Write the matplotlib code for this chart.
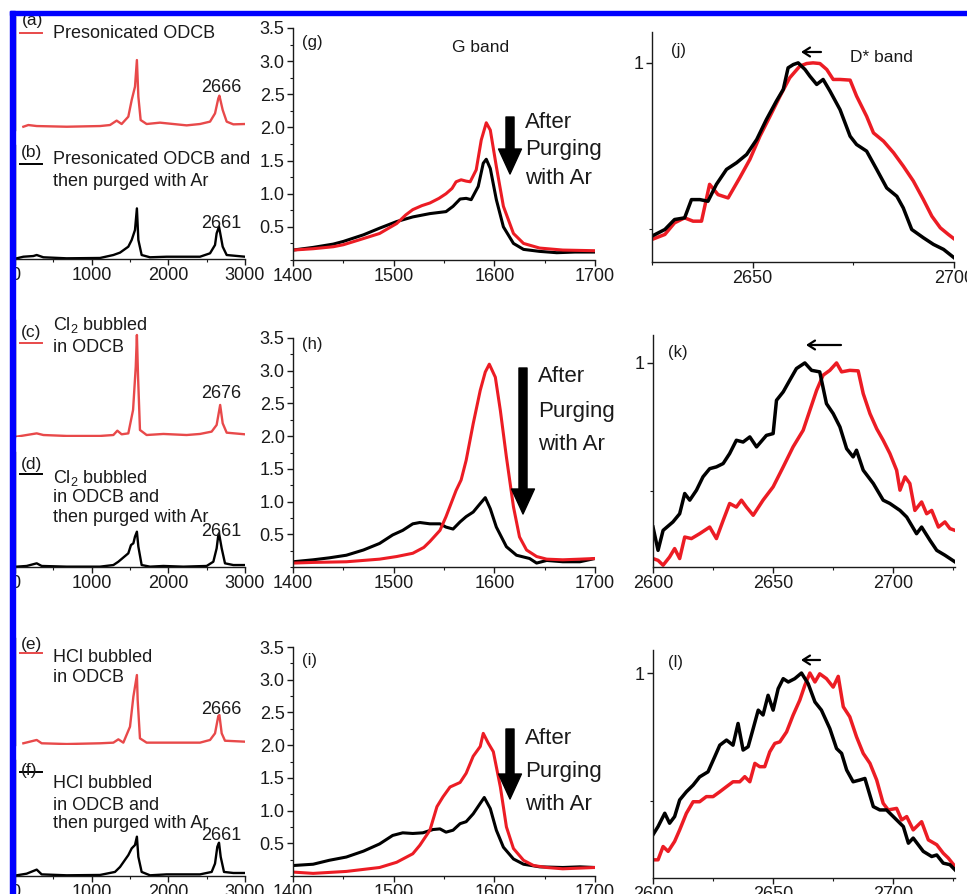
import matplotlib.pyplot as plt
from matplotlib.lines import Line2D
from matplotlib.patches import FancyArrowPatch, Rectangle
from matplotlib.ticker import FixedLocator, MultipleLocator

plt.rcParams['font.family'] = ['Liberation Sans', 'DejaVu Sans']
plt.rcParams['mathtext.fontset'] = 'custom'
plt.rcParams['mathtext.rm'] = 'Liberation Sans'
plt.rcParams['mathtext.it'] = 'Liberation Sans:italic'

W, H = 967, 894
RED = '#ec1c24'
RED_LIGHT = '#e8494a'
INK = '#1a1a1a'

# ---- survey spectra (left column), intensity in arbitrary units ----
a_x = [109, 174, 283, 674, 1109, 1239, 1326, 1391, 1478, 1522, 1565, 1590, 1609, 1639,
       1717, 1891, 1978, 2239, 2413, 2544, 2609, 2652, 2666, 2709, 2761, 2848, 3000]
a_y = [0.029, 0.044, 0.035, 0.029, 0.035, 0.044, 0.083, 0.053, 0.118, 0.265, 0.383, 0.619, 0.295, 0.088,
       0.053, 0.065, 0.059, 0.041, 0.053, 0.074, 0.147, 0.280, 0.304, 0.177, 0.074, 0.050, 0.053]
b_x = [22, 109, 239, 283, 370, 674, 1109, 1283, 1370, 1478, 1522, 1565, 1590, 1609, 1652,
       1761, 1978, 2413, 2544, 2609, 2630, 2661, 2709, 2761, 3000]
b_y = [0.006, 0.020, 0.026, 0.035, 0.015, 0.006, 0.009, 0.035, 0.056, 0.108, 0.167, 0.254, 0.444, 0.167, 0.035,
       0.015, 0.020, 0.020, 0.050, 0.123, 0.225, 0.284, 0.108, 0.035, 0.020]
c_x = [22, 152, 283, 370, 674, 1109, 1283, 1335, 1391, 1478, 1540, 1575, 1590, 1605, 1630,
       1717, 1935, 2239, 2413, 2565, 2630, 2676, 2709, 2761, 3000]
c_y = [0.003, 0.017, 0.031, 0.017, 0.009, 0.009, 0.017, 0.054, 0.023, 0.031, 0.231, 0.601, 0.872, 0.516, 0.060,
       0.017, 0.026, 0.017, 0.026, 0.046, 0.103, 0.274, 0.117, 0.037, 0.023]
d_x = [22, 152, 283, 348, 674, 1109, 1283, 1348, 1478, 1513, 1544, 1565, 1590, 1609, 1652,
       1761, 1935, 2196, 2500, 2587, 2630, 2652, 2661, 2696, 2739, 2848, 3000]
d_y = [0.003, 0.009, 0.032, 0.009, 0.003, 0.003, 0.017, 0.046, 0.119, 0.191, 0.206, 0.264, 0.307, 0.177, 0.017,
       0.003, 0.009, 0.003, 0.009, 0.046, 0.162, 0.278, 0.293, 0.162, 0.032, 0.017, 0.017]
e_x = [109, 283, 348, 674, 1109, 1283, 1348, 1413, 1500, 1544, 1590, 1600, 1630, 1717,
       1978, 2413, 2544, 2609, 2652, 2666, 2696, 2739, 3000]
e_y = [0.016, 0.047, 0.016, 0.009, 0.016, 0.022, 0.053, 0.022, 0.171, 0.452, 0.654, 0.421, 0.062, 0.022,
       0.022, 0.022, 0.047, 0.109, 0.271, 0.280, 0.109, 0.040, 0.031]
f_x = [22, 152, 283, 348, 674, 1109, 1304, 1370, 1478, 1522, 1565, 1590, 1609, 1652, 1761,
       1978, 2413, 2565, 2609, 2639, 2661, 2683, 2726, 2848, 3000]
f_y = [0.006, 0.020, 0.055, 0.014, 0.006, 0.009, 0.035, 0.078, 0.180, 0.238, 0.267, 0.339, 0.165, 0.035, 0.006,
       0.014, 0.014, 0.035, 0.107, 0.252, 0.287, 0.165, 0.035, 0.026, 0.026]

# ---- G band (middle column) ----
g_red_x = [1400, 1420, 1440, 1450, 1465, 1486, 1495, 1503, 1512, 1519, 1528, 1536, 1545, 1552, 1558,
           1562, 1567, 1572, 1576, 1582, 1587, 1592, 1596, 1602, 1609, 1619, 1629, 1645, 1668, 1700]
g_red_y = [0.15, 0.17, 0.20, 0.23, 0.30, 0.40, 0.48, 0.55, 0.68, 0.76, 0.82, 0.86, 0.93, 1.00, 1.08,
           1.18, 1.21, 1.19, 1.18, 1.36, 1.81, 2.07, 1.96, 1.41, 0.81, 0.40, 0.25, 0.18, 0.15, 0.14]
g_blk_x = [1400, 1420, 1440, 1450, 1470, 1486, 1503, 1519, 1536, 1552, 1559, 1566, 1572,
           1577, 1584, 1589, 1592, 1596, 1602, 1609, 1619, 1629, 1645, 1662, 1680, 1700]
g_blk_y = [0.15, 0.19, 0.24, 0.28, 0.38, 0.48, 0.58, 0.65, 0.70, 0.73, 0.81, 0.92, 0.93,
           0.91, 1.11, 1.46, 1.52, 1.38, 0.91, 0.50, 0.25, 0.16, 0.13, 0.11, 0.12, 0.12]
h_red_x = [1400, 1420, 1453, 1486, 1503, 1519, 1530, 1536, 1546, 1552, 1562, 1567, 1572, 1579,
           1586, 1591, 1595, 1601, 1606, 1612, 1619, 1625, 1632, 1642, 1652, 1668, 1685, 1700]
h_red_y = [0.06, 0.07, 0.08, 0.12, 0.16, 0.21, 0.30, 0.39, 0.56, 0.77, 1.17, 1.33, 1.63, 2.19,
           2.70, 2.98, 3.10, 2.90, 2.39, 1.68, 0.92, 0.46, 0.26, 0.16, 0.12, 0.11, 0.12, 0.13]
h_blk_x = [1400, 1420, 1436, 1453, 1470, 1486, 1499, 1509, 1519, 1526, 1536, 1546, 1552, 1559, 1566,
           1572, 1579, 1586, 1591, 1596, 1602, 1612, 1622, 1635, 1642, 1652, 1668, 1685, 1700]
h_blk_y = [0.08, 0.11, 0.14, 0.18, 0.26, 0.36, 0.49, 0.56, 0.66, 0.68, 0.66, 0.66, 0.61, 0.58, 0.69,
           0.77, 0.84, 0.97, 1.06, 0.89, 0.61, 0.31, 0.18, 0.13, 0.06, 0.10, 0.08, 0.08, 0.13]
i_red_x = [1400, 1420, 1453, 1486, 1503, 1519, 1526, 1536, 1543, 1549, 1556, 1566, 1572,
           1579, 1586, 1589, 1594, 1599, 1606, 1612, 1619, 1629, 1639, 1652, 1668, 1700]
i_red_y = [0.06, 0.04, 0.07, 0.13, 0.21, 0.34, 0.47, 0.70, 1.06, 1.21, 1.36, 1.43, 1.57,
           1.83, 1.98, 2.18, 2.03, 1.90, 1.36, 0.75, 0.42, 0.24, 0.16, 0.13, 0.11, 0.13]
i_blk_x = [1400, 1420, 1436, 1453, 1470, 1486, 1499, 1509, 1519, 1529, 1539, 1546, 1552, 1559,
           1566, 1572, 1579, 1586, 1590, 1596, 1602, 1609, 1619, 1629, 1645, 1668, 1685, 1700]
i_blk_y = [0.16, 0.18, 0.24, 0.29, 0.38, 0.49, 0.62, 0.66, 0.65, 0.66, 0.71, 0.72, 0.67, 0.70,
           0.80, 0.83, 0.95, 1.11, 1.20, 1.03, 0.70, 0.44, 0.26, 0.18, 0.14, 0.13, 0.14, 0.13]

# ---- D* band (right column), normalised ----
j_blk_x = [2625.0, 2628.2, 2630.6, 2633.1, 2634.8, 2636.9, 2638.9, 2641.0, 2643.5, 2646.0,
           2648.5, 2651.0, 2653.4, 2655.9, 2657.6, 2658.8, 2660.1, 2661.3, 2663.0, 2664.2,
           2665.9, 2667.5, 2669.2, 2671.7, 2674.2, 2675.8, 2678.3, 2680.8, 2683.3, 2685.8,
           2687.4, 2689.5, 2692.4, 2694.9, 2697.4, 2700.0]
j_blk_y = [0.478, 0.498, 0.528, 0.533, 0.588, 0.588, 0.583, 0.634, 0.679, 0.699,
           0.724, 0.769, 0.829, 0.885, 0.920, 0.985, 0.995, 1.0, 0.98, 0.96,
           0.935, 0.95, 0.915, 0.859, 0.779, 0.754, 0.734, 0.679, 0.623, 0.598,
           0.563, 0.498, 0.473, 0.453, 0.438, 0.413]
j_red_x = [2625.0, 2628.2, 2630.6, 2633.1, 2635.2, 2637.3, 2639.3, 2641.4, 2643.9, 2646.8,
           2649.3, 2651.8, 2654.3, 2656.8, 2659.2, 2661.7, 2663.4, 2665.0, 2666.7, 2668.4,
           2670.0, 2671.7, 2674.2, 2675.8, 2678.3, 2680.0, 2682.5, 2685.0, 2687.4, 2689.9,
           2692.4, 2694.5, 2696.6, 2698.6, 2700.0]
j_red_y = [0.468, 0.483, 0.518, 0.533, 0.523, 0.523, 0.634, 0.603, 0.593, 0.654,
           0.709, 0.779, 0.839, 0.900, 0.955, 0.990, 0.998, 1.0, 0.998, 0.980,
           0.950, 0.950, 0.948, 0.900, 0.839, 0.789, 0.764, 0.729, 0.689, 0.644,
           0.588, 0.538, 0.503, 0.483, 0.470]
k_blk_x = [2600, 2602.1, 2604.2, 2608.3, 2611.1, 2613.2, 2615.3, 2618.1, 2620.8, 2623.6,
           2626.4, 2629.2, 2631.9, 2634.7, 2637.5, 2640.3, 2643.1, 2647.2, 2650, 2651.4,
           2654.2, 2656.9, 2659.7, 2663.2, 2666.0, 2669.4, 2672.2, 2675.0, 2677.8, 2680.6,
           2683.3, 2684.7, 2687.5, 2691.7, 2695.8, 2698.6, 2702.8, 2705.6, 2709.7, 2711.8,
           2715.3, 2718.1, 2721.5, 2725.7]
k_blk_y = [0.359, 0.268, 0.346, 0.379, 0.411, 0.490, 0.464, 0.503, 0.555, 0.587,
           0.594, 0.607, 0.646, 0.698, 0.691, 0.711, 0.672, 0.717, 0.724, 0.854,
           0.887, 0.932, 0.978, 1.0, 0.971, 0.965, 0.841, 0.802, 0.750, 0.665,
           0.633, 0.659, 0.581, 0.529, 0.464, 0.451, 0.424, 0.398, 0.333, 0.359,
           0.307, 0.268, 0.249, 0.223]
k_red_x = [2600, 2602.1, 2604.2, 2606.9, 2609.0, 2611.1, 2613.2, 2616.0, 2619.4, 2623.6,
           2626.4, 2629.2, 2631.9, 2634.7, 2636.8, 2638.9, 2641.7, 2645.8, 2650.0, 2654.2,
           2658.3, 2662.5, 2665.3, 2668.1, 2670.8, 2673.6, 2676.4, 2678.5, 2681.9, 2685.4,
           2687.5, 2690.3, 2693.1, 2695.8, 2698.6, 2701.4, 2702.8, 2704.9, 2706.9, 2709.0,
           2711.8, 2713.9, 2716.0, 2718.8, 2721.5, 2723.6, 2725.7]
k_red_y = [0.236, 0.229, 0.210, 0.242, 0.275, 0.236, 0.320, 0.314, 0.333, 0.359,
           0.314, 0.385, 0.451, 0.437, 0.464, 0.437, 0.405, 0.464, 0.516, 0.594,
           0.672, 0.737, 0.815, 0.893, 0.952, 0.971, 1.0, 0.965, 0.971, 0.969,
           0.880, 0.802, 0.743, 0.698, 0.646, 0.581, 0.503, 0.555, 0.529, 0.424,
           0.457, 0.411, 0.424, 0.359, 0.379, 0.353, 0.346]
l_blk_x = [2600, 2602.1, 2604.9, 2606.9, 2609.0, 2611.1, 2613.9, 2616.7, 2619.4, 2622.9,
           2625.7, 2627.8, 2630.6, 2633.3, 2635.4, 2637.5, 2639.6, 2641.7, 2643.8, 2645.8,
           2647.9, 2650.0, 2652.1, 2654.2, 2656.3, 2659.0, 2661.8, 2664.6, 2667.4, 2670.1,
           2673.6, 2676.4, 2678.5, 2680.6, 2683.3, 2686.1, 2688.2, 2691.7, 2694.4, 2697.2,
           2701.4, 2704.2, 2706.3, 2708.3, 2712.5, 2716.0, 2718.1, 2720.8, 2723.6, 2725.7]
l_blk_y = [0.368, 0.400, 0.452, 0.413, 0.439, 0.504, 0.536, 0.562, 0.594, 0.614,
           0.673, 0.718, 0.738, 0.718, 0.803, 0.699, 0.712, 0.783, 0.855, 0.836,
           0.913, 0.855, 0.939, 0.978, 0.965, 0.978, 1.0, 0.958, 0.887, 0.855,
           0.783, 0.705, 0.686, 0.621, 0.575, 0.582, 0.588, 0.478, 0.465, 0.465,
           0.426, 0.400, 0.335, 0.355, 0.303, 0.283, 0.289, 0.257, 0.251, 0.231]
l_red_x = [2600, 2602.1, 2604.2, 2606.3, 2609.0, 2611.1, 2613.9, 2616.7, 2619.4, 2622.2,
           2625.0, 2627.8, 2630.6, 2633.3, 2636.1, 2638.2, 2640.3, 2642.4, 2644.4, 2646.5,
           2648.6, 2650.7, 2652.8, 2655.6, 2658.3, 2661.1, 2663.2, 2665.3, 2667.4, 2669.4,
           2672.2, 2675.0, 2677.1, 2679.2, 2681.9, 2684.7, 2687.5, 2690.3, 2693.1, 2695.8,
           2697.9, 2701.4, 2703.5, 2705.6, 2708.3, 2711.8, 2714.6, 2718.1, 2720.8, 2722.9,
           2725.7]
l_red_y = [0.270, 0.270, 0.322, 0.303, 0.342, 0.387, 0.452, 0.497, 0.497, 0.517,
           0.517, 0.536, 0.556, 0.575, 0.575, 0.595, 0.575, 0.647, 0.634, 0.634,
           0.692, 0.725, 0.731, 0.770, 0.835, 0.894, 0.952, 1.0, 0.965, 0.997,
           0.978, 0.945, 0.987, 0.868, 0.829, 0.751, 0.686, 0.647, 0.582, 0.491,
           0.465, 0.471, 0.426, 0.439, 0.387, 0.419, 0.348, 0.329, 0.296, 0.277,
           0.244]

fig = plt.figure(figsize=(W / 100, H / 100), dpi=100)


def fx(x):
    return x / W


def fy(y):
    return 1 - y / H


def px_axes(x0, y0, x1, y1):
    ax = fig.add_axes([fx(x0), fy(y1), (x1 - x0) / W, (y1 - y0) / H])
    ax.patch.set_alpha(0)
    ax.spines['top'].set_visible(False)
    ax.spines['right'].set_visible(False)
    for s in ('left', 'bottom'):
        ax.spines[s].set_linewidth(1.0)
        ax.spines[s].set_color(INK)
    ax.tick_params(which='major', direction='out', length=4, width=1, labelsize=13,
                   colors=INK, pad=2)
    ax.tick_params(which='minor', direction='out', length=2.5, width=0.8, colors=INK)
    return ax


def ftext(x, y, s, size=13, ha='left'):
    fig.text(fx(x), fy(y), s, fontsize=size, ha=ha, va='center', color=INK)


def tag_line(x0, x1, y, color):
    fig.add_artist(Line2D([fx(x0), fx(x1)], [fy(y), fy(y)], color=color, lw=1.4))


def big_arrow(x, y0, y1):
    fig.add_artist(FancyArrowPatch((fx(x), fy(y0)), (fx(x), fy(y1)), transform=fig.transFigure,
                                   arrowstyle='simple,head_width=16.5,head_length=18,tail_width=5.8',
                                   mutation_scale=1, color='black', shrinkA=0, shrinkB=0))


def small_arrow(x0, x1, y):
    fig.add_artist(FancyArrowPatch((fx(x0), fy(y)), (fx(x1), fy(y)), transform=fig.transFigure,
                                   arrowstyle='->,head_length=5,head_width=3.2', mutation_scale=1,
                                   color='black', lw=1.6, shrinkA=0, shrinkB=0))


# left column: survey spectra, two stacked strips per row
def survey(top_box, bot_box, tx, ty, bx, by):
    ax_t = px_axes(*top_box)
    ax_t.plot(tx, ty, color=RED_LIGHT, lw=1.7)
    ax_b = px_axes(*bot_box)
    ax_b.plot(bx, by, color='black', lw=1.7)
    for ax in (ax_t, ax_b):
        ax.set_xlim(0, 3000)
        ax.set_ylim(0, 1)
        ax.set_yticks([])
    ax_t.spines['bottom'].set_visible(False)
    ax_t.set_xticks([])
    ax_b.set_xticks([0, 1000, 2000, 3000])
    ax_b.xaxis.set_minor_locator(MultipleLocator(500))


survey((15, 17, 245, 130), (15, 145, 245, 259), a_x, a_y, b_x, b_y)
survey((15, 320, 245, 437), (15, 452, 245, 567), c_x, c_y, d_x, d_y)
survey((15, 638, 245, 745), (15, 760, 245, 876), e_x, e_y, f_x, f_y)


# middle column: G band
def gband(box, rx, ry, bx, by):
    ax = px_axes(*box)
    ax.plot(bx, by, color='black', lw=2.2)
    ax.plot(rx, ry, color=RED, lw=2.2)
    ax.set_xlim(1400, 1700)
    ax.set_ylim(0, 3.5)
    ax.set_xticks([1400, 1500, 1600, 1700])
    ax.xaxis.set_minor_locator(MultipleLocator(50))
    ax.set_yticks([0.5, 1.0, 1.5, 2.0, 2.5, 3.0, 3.5])
    ax.set_yticklabels(['0.5', '1.0', '1.5', '2.0', '2.5', '3.0', '3.5'])
    ax.yaxis.set_minor_locator(MultipleLocator(0.25))
    return ax


gband((293, 28, 595, 260), g_red_x, g_red_y, g_blk_x, g_blk_y)
gband((293, 338, 595, 567), h_red_x, h_red_y, h_blk_x, h_blk_y)
gband((293, 647, 595, 876), i_red_x, i_red_y, i_blk_x, i_blk_y)


# right column: D* band, normalised
def dband(box, xlim, ylim, xticks, minor, rx, ry, bx, by):
    ax = px_axes(*box)
    ax.plot(rx, ry, color=RED, lw=2.5)
    ax.plot(bx, by, color='black', lw=2.5)
    ax.set_xlim(*xlim)
    ax.set_ylim(*ylim)
    ax.set_xticks(xticks)
    ax.xaxis.set_minor_locator(FixedLocator(minor))
    ax.set_yticks([1])
    ax.set_yticklabels(['1'])
    ax.yaxis.set_minor_locator(FixedLocator([0.5]))
    return ax


dband((652, 32, 954, 262), (2625, 2700), (0.40, 1.093), [2650, 2700], [2625, 2675],
      j_red_x, j_red_y, j_blk_x, j_blk_y)
dband((653, 335, 955, 567), (2600, 2725.7), (0.203, 1.109), [2600, 2650, 2700], [2625, 2675, 2725],
      k_red_x, k_red_y, k_blk_x, k_blk_y)
dband((653, 650, 955, 878), (2600, 2725.7), (0.199, 1.09), [2600, 2650, 2700], [2625, 2675, 2725],
      l_red_x, l_red_y, l_blk_x, l_blk_y)

# left column labels
ftext(22, 20, '(a)', 12.5)
tag_line(20, 42, 33, RED_LIGHT)
ftext(53, 33, 'Presonicated ODCB')
ftext(221, 87, '2666', 13, ha='center')
ftext(21, 152, '(b)', 12.5)
tag_line(20, 42, 164, 'black')
ftext(53, 160, 'Presonicated ODCB and')
ftext(53, 182, 'then purged with Ar')
ftext(221, 223, '2661', 13, ha='center')

ftext(21, 332, '(c)', 12.5)
tag_line(20, 42, 343, RED_LIGHT)
ftext(53, 325, 'Cl$_2$ bubbled')
ftext(53, 347, 'in ODCB')
ftext(221, 393, '2676', 13, ha='center')
ftext(21, 465, '(d)', 12.5)
tag_line(20, 42, 474, 'black')
ftext(53, 478, 'Cl$_2$ bubbled')
ftext(53, 498, 'in ODCB and')
ftext(53, 517, 'then purged with Ar')
ftext(221, 532, '2661', 13, ha='center')

ftext(21, 645, '(e)', 12.5)
tag_line(20, 42, 653, RED_LIGHT)
ftext(53, 657, 'HCl bubbled')
ftext(53, 677, 'in ODCB')
ftext(221, 710, '2666', 13, ha='center')
ftext(21, 770, '(f)', 12.5)
tag_line(20, 42, 772, 'black')
ftext(53, 783, 'HCl bubbled')
ftext(53, 805, 'in ODCB and')
ftext(53, 823, 'then purged with Ar')
ftext(221, 835, '2661', 13, ha='center')

# middle column labels
ftext(302, 43, '(g)', 12)
ftext(481, 47, 'G band', 12.5, ha='center')
ftext(302, 345, '(h)', 12)
ftext(302, 660, '(i)', 12)
big_arrow(510, 117, 174)
big_arrow(523, 368, 514)
big_arrow(510, 729, 799)
for (tx, ty, step) in [(525, 122, 28), (538, 377, 34), (525, 738, 33)]:
    ftext(tx, ty, 'After', 16)
    ftext(tx, ty + step, 'Purging', 16)
    ftext(tx, ty + 2 * step, 'with Ar', 16)

# right column labels
ftext(671, 50, '(j)', 12)
ftext(850, 58, 'D* band', 12.5)
ftext(668, 353, '(k)', 12)
ftext(668, 662, '(l)', 12)
small_arrow(821, 801, 52)
small_arrow(841, 806, 345)
small_arrow(820, 801, 660)

# blue frame of the source scan
fig.add_artist(Rectangle((fx(10), fy(894)), 5 / W, 883 / H, transform=fig.transFigure,
                         color='#0000ff', zorder=20))
fig.add_artist(Rectangle((fx(10), fy(15)), 957 / W, 4 / H, transform=fig.transFigure,
                         color='#0000ff', zorder=20))

fig.savefig('out.png', dpi=100)
